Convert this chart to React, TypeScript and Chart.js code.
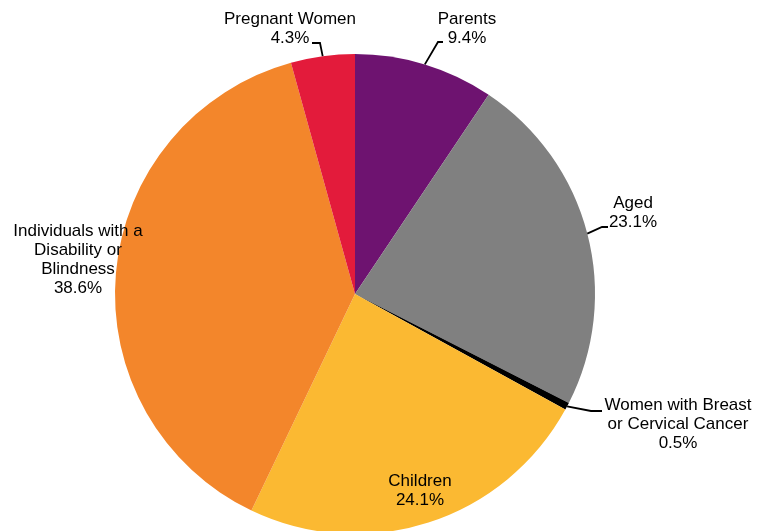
import React, { useEffect, useRef } from "react";
import { Chart, registerables } from "chart.js";

Chart.register(...registerables);

// Share of enrollees by eligibility group (percent)
const categories = [
  "Parents",
  "Aged",
  "Women with Breast or Cervical Cancer",
  "Children",
  "Individuals with a Disability or Blindness",
  "Pregnant Women",
];
const shares = [9.4, 23.1, 0.5, 24.1, 38.6, 4.3];
const sliceColors = ["#6E1370", "#808080", "#000000", "#FBB932", "#F3862B", "#E31B3B"];

// Text lines for each slice label (the percentage is appended from `shares`)
const labelLines = [
  ["Parents"],
  ["Aged"],
  ["Women with Breast", "or Cervical Cancer"],
  ["Children"],
  ["Individuals with a", "Disability or", "Blindness"],
  ["Pregnant Women"],
];

// Label placement: text block centre (x, first-line y) and optional leader elbow/end
type Placement = { x: number; y: number; leader?: [number, number][] };
const placements: Placement[] = [
  { x: 467, y: 19, leader: [[438, 42], [443, 42]] },
  { x: 633, y: 203, leader: [[602, 227], [608, 227]] },
  { x: 678, y: 405, leader: [[591, 411], [602, 411]] },
  { x: 420, y: 481 },
  { x: 78, y: 231 },
  { x: 290, y: 19, leader: [[320, 43], [312, 43]] },
];

const LINE_HEIGHT = 19;
const FONT = "17px 'Liberation Sans', Arial, sans-serif";

const sliceLabels = {
  id: "sliceLabels",
  afterDatasetsDraw(chart: Chart) {
    const ctx = chart.ctx;
    const meta = chart.getDatasetMeta(0);
    ctx.save();
    meta.data.forEach((arc: any, i: number) => {
      const p = placements[i];
      const { x: cx, y: cy, startAngle, endAngle, outerRadius } = arc.getProps(
        ["x", "y", "startAngle", "endAngle", "outerRadius"],
        true
      );
      if (p.leader) {
        const mid = (startAngle + endAngle) / 2;
        ctx.beginPath();
        ctx.moveTo(cx + Math.cos(mid) * outerRadius, cy + Math.sin(mid) * outerRadius);
        p.leader.forEach(([lx, ly]) => ctx.lineTo(lx, ly));
        ctx.strokeStyle = "#000";
        ctx.lineWidth = 1.8;
        ctx.stroke();
      }
      const lines = [...labelLines[i], shares[i].toFixed(1) + "%"];
      ctx.font = FONT;
      ctx.fillStyle = "#000";
      ctx.textAlign = "center";
      ctx.textBaseline = "middle";
      lines.forEach((t, k) => ctx.fillText(t, p.x, p.y + k * LINE_HEIGHT));
    });
    ctx.restore();
  },
};

export default function App() {
  const canvasRef = useRef<HTMLCanvasElement | null>(null);

  useEffect(() => {
    if (!canvasRef.current) return;
    const chart = new Chart(canvasRef.current, {
      type: "pie",
      data: {
        labels: categories,
        datasets: [
          {
            data: shares,
            backgroundColor: sliceColors,
            borderWidth: 0,
          },
        ],
      },
      options: {
        responsive: false,
        animation: false,
        devicePixelRatio: 1,
        layout: { padding: { top: 54, bottom: 26, left: 115, right: 172 } },
        plugins: {
          legend: { display: false },
          tooltip: { enabled: false },
        },
      },
      plugins: [sliceLabels],
    });
    return () => chart.destroy();
  }, []);

  return (
    <div
      style={{
        position: "fixed",
        left: 0,
        top: 0,
        width: 767,
        height: 531,
        overflow: "hidden",
        background: "#fff",
      }}
    >
      <canvas ref={canvasRef} width={767} height={560} style={{ display: "block" }} />
    </div>
  );
}
